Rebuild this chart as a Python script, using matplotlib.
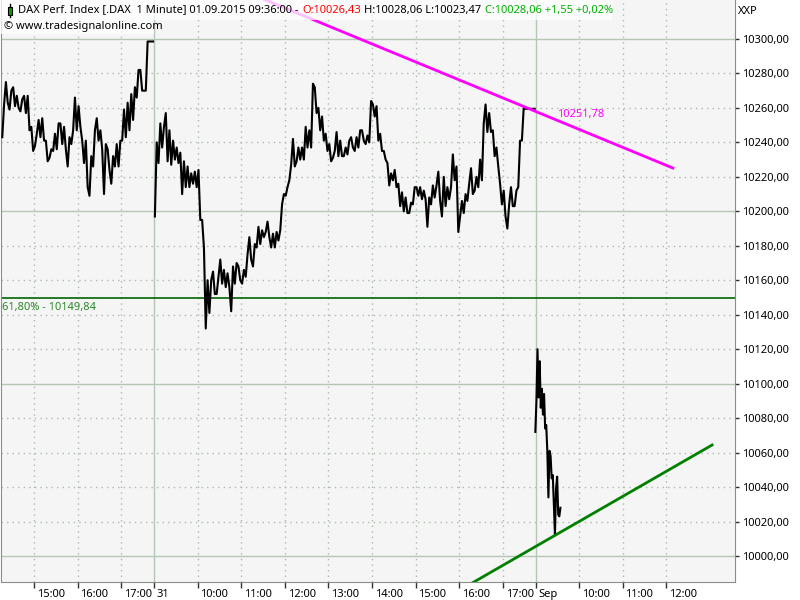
import matplotlib
matplotlib.use('Agg')
import matplotlib.pyplot as plt
from matplotlib.patches import Rectangle
from matplotlib.transforms import ScaledTranslation

plt.rcParams['font.family'] = ['Noto Sans', 'DejaVu Sans']

# x = Minuten seit 31.08. 09:00, eine Sitzung 09:00-17:45 = 525 Minuten
SESSION = 525

# 28.08., ab 14:15, 5-Minuten-Spannen (Tief / Hoch)
aug28_start = -210
aug28_step = 5
aug28_low = [10243, 10263, 10259, 10261, 10260, 10258, 10257, 10247, 10235, 10238,
             10243, 10241, 10229, 10231, 10235, 10236, 10239, 10236, 10226, 10239,
             10247, 10249, 10228, 10214, 10209, 10226, 10241, 10236, 10210, 10224,
             10216, 10226, 10226, 10241, 10243, 10247, 10253, 10266, 10270, 10270,
             10298.53, 10298.53]
aug28_high = [10262, 10275, 10270, 10272, 10267, 10265, 10267, 10267, 10249, 10245,
              10253, 10254, 10241, 10236, 10245, 10251, 10251, 10249, 10243, 10247,
              10266, 10261, 10241, 10241, 10232, 10247, 10254, 10247, 10239, 10236,
              10232, 10239, 10241, 10259, 10263, 10268, 10272, 10282, 10282, 10270,
              10298.53, 10298.53]

# 31.08., ganze Sitzung, 5-Minuten-Spannen
aug31_start = 0
aug31_step = 5
aug31_low = [10197, 10228, 10237, 10229, 10227, 10230, 10228, 10210, 10214, 10214,
             10216, 10214, 10195, 10179, 10132, 10141, 10152, 10152, 10158, 10156,
             10156, 10142, 10158, 10160, 10158, 10162, 10172, 10168, 10179, 10181,
             10185, 10185, 10179, 10179, 10183, 10204, 10209, 10218, 10226, 10229,
             10230, 10230, 10237, 10237, 10257, 10247, 10241, 10235, 10229, 10231,
             10232, 10232, 10232, 10233, 10237, 10235, 10237, 10241, 10239, 10240,
             10255, 10241, 10235, 10230, 10215, 10218, 10214, 10203, 10200, 10199,
             10199, 10204, 10209, 10207, 10207, 10191, 10204, 10208, 10206, 10197,
             10203, 10207, 10218, 10188, 10197, 10199, 10206, 10210, 10212, 10214,
             10218, 10246, 10246, 10232, 10226, 10204, 10197, 10190, 10203, 10203,
             10214, 10241, 10259.46, 10259.46, 10259.46]
aug31_high = [10240, 10251, 10249, 10257, 10247, 10241, 10237, 10234, 10229, 10226,
              10222, 10223, 10224, 10195, 10160, 10160, 10165, 10162, 10172, 10166,
              10164, 10168, 10170, 10168, 10166, 10175, 10185, 10181, 10191, 10189,
              10188, 10194, 10187, 10188, 10189, 10210, 10214, 10227, 10242, 10237,
              10237, 10249, 10247, 10274, 10272, 10260, 10255, 10245, 10239, 10235,
              10246, 10241, 10237, 10241, 10243, 10243, 10247, 10247, 10244, 10264,
              10262, 10261, 10245, 10235, 10228, 10222, 10224, 10216, 10211, 10208,
              10205, 10214, 10214, 10214, 10212, 10208, 10215, 10215, 10223, 10220,
              10214, 10214, 10233, 10226, 10206, 10210, 10216, 10225, 10220, 10230,
              10251, 10262, 10257, 10247, 10237, 10216, 10212, 10204, 10214, 10212,
              10241, 10260, 10259.46, 10259.46, 10259.46]

# 01.09. bis 09:36, 3-Minuten-Spannen
sep01_start = SESSION - 1
sep01_step = 3
sep01_low = [10072, 10092, 10086, 10082, 10074, 10061, 10034, 10045, 10030, 10012, 10024, 10023]
sep01_high = [10090, 10120, 10113, 10097, 10094, 10076, 10061, 10058, 10047, 10039, 10046, 10028]

# Linien
fib_level = 10149.84
fib_label = '61,80% - 10149,84'
down_x = [150, 714]
down_y = [10323.2, 10225.1]
down_label = '10251,78'
up_x = [420, 768]
up_y = [9980.0, 10064.4]

tick_pos = [-165, -105, -45, 0, 60, 120, 180, 240, 300, 360, 420, 480, 525, 585, 645, 705]
tick_lab = ['15:00', '16:00', '17:00', '31', '10:00', '11:00', '12:00', '13:00', '14:00',
            '15:00', '16:00', '17:00', 'Sep', '10:00', '11:00', '12:00']
y_ticks = list(range(10000, 10301, 20))


def zigzag(start, step, lows, highs):
    xs, ys = [], []
    for i, (lo, hi) in enumerate(zip(lows, highs)):
        t = start + i * step
        mid = (lo + hi) / 2
        nxt = (lows[i + 1] + highs[i + 1]) / 2 if i + 1 < len(lows) else mid
        xs += [t + step * 0.25, t + step * 0.75]
        ys += [lo, hi] if nxt >= mid else [hi, lo]
    return xs, ys


fig = plt.figure(figsize=(8, 6), dpi=100)
ax = fig.add_axes([1 / 800, 18 / 600, 734 / 800, 582 / 600])
ax.set_facecolor('#f5f5f5')

grid_c = '#b4c6b4'
for v in y_ticks:
    if v % 100 == 0:
        ax.axhline(v, color=grid_c, lw=1, zorder=1)
    else:
        ax.axhline(v, color='#a9bba9', lw=1, ls=(0, (1, 3)), zorder=1)
for p in tick_pos:
    if p % SESSION == 0:
        ax.axvline(p, color=grid_c, lw=1, zorder=1)
    else:
        ax.axvline(p, color='#a9bba9', lw=1, ls=(0, (1, 3)), zorder=1)

for start, step, lo, hi in [(aug28_start, aug28_step, aug28_low, aug28_high),
                            (aug31_start, aug31_step, aug31_low, aug31_high),
                            (sep01_start, sep01_step, sep01_low, sep01_high)]:
    xs, ys = zigzag(start, step, lo, hi)
    ax.plot(xs, ys, color='black', lw=1.5, zorder=3)

ax.axhline(fib_level, color='#006400', lw=1.2, zorder=2)
ax.text(-209, fib_level - 2.2, fib_label, color='#2a8a2a', fontsize=8, va='top', ha='left')

ax.plot(down_x, down_y, color='#ff00ff', lw=2, zorder=4)
ax.text(555, 10256, down_label, color='#ff00ff', fontsize=8, va='center', ha='left')
ax.plot(up_x, up_y, color='#008000', lw=2, zorder=4)

ax.set_xlim(-210.5, 799.5)
ax.set_ylim(9984.9, 10322.6)

ax.yaxis.tick_right()
ax.set_yticks(y_ticks, [f'{v:.2f}'.replace('.', ',') for v in y_ticks])
ax.set_xticks(tick_pos, tick_lab)
ax.tick_params(axis='y', direction='out', length=3, width=1, color='#303030', pad=2, labelsize=8)
ax.tick_params(axis='x', direction='out', length=4, width=1, color='#303030', pad=1, labelsize=8)
for lab in ax.get_xticklabels():
    lab.set_ha('left')
    lab.set_transform(lab.get_transform() + ScaledTranslation(2 / 72, 0, fig.dpi_scale_trans))

ax.spines['top'].set_visible(False)
for s in ['left', 'right', 'bottom']:
    ax.spines[s].set_color('#8c8c8c')

fig.text(738 / 800, 1 - 12 / 600, 'XXP', fontsize=8, va='center', ha='left')

# Kopfzeile
fig.add_artist(Rectangle((0, 1 - 20 / 600), 612 / 800, 20 / 600, transform=fig.transFigure,
                         facecolor='white', edgecolor='none', alpha=0.75, zorder=5))
fig.add_artist(Rectangle((0, 1 - 34 / 600), 154 / 800, 14 / 600, transform=fig.transFigure,
                         facecolor='white', edgecolor='none', alpha=0.75, zorder=5))
fig.add_artist(plt.Line2D([10 / 800, 10 / 800], [1 - 17 / 600, 1 - 4 / 600],
                          transform=fig.transFigure, color='black', lw=1, zorder=6))
fig.add_artist(Rectangle((8 / 800, 1 - 15 / 600), 4 / 800, 8 / 600, transform=fig.transFigure,
                         facecolor='#00a000', edgecolor='black', lw=0.8, zorder=7))

parts = [('DAX Perf. Index [.DAX  1 Minute] 01.09.2015 09:36:00 -', 'black'),
         ('O:10026,43', '#ff0000'),
         ('H:10028,06 L:10023,47', 'black'),
         ('C:10028,06 +1,55 +0,02%', '#00b000')]
renderer = fig.canvas.get_renderer()
x = 18
for s, c in parts:
    t = fig.text(x / 800, 1 - 10 / 600, s, color=c, fontsize=8, va='center', ha='left', zorder=8)
    x += t.get_window_extent(renderer).width + 3.5
fig.text(4 / 800, 1 - 27 / 600, '© www.tradesignalonline.com', fontsize=8, va='center',
         ha='left', zorder=8)

plt.savefig('out.png', dpi=100)
